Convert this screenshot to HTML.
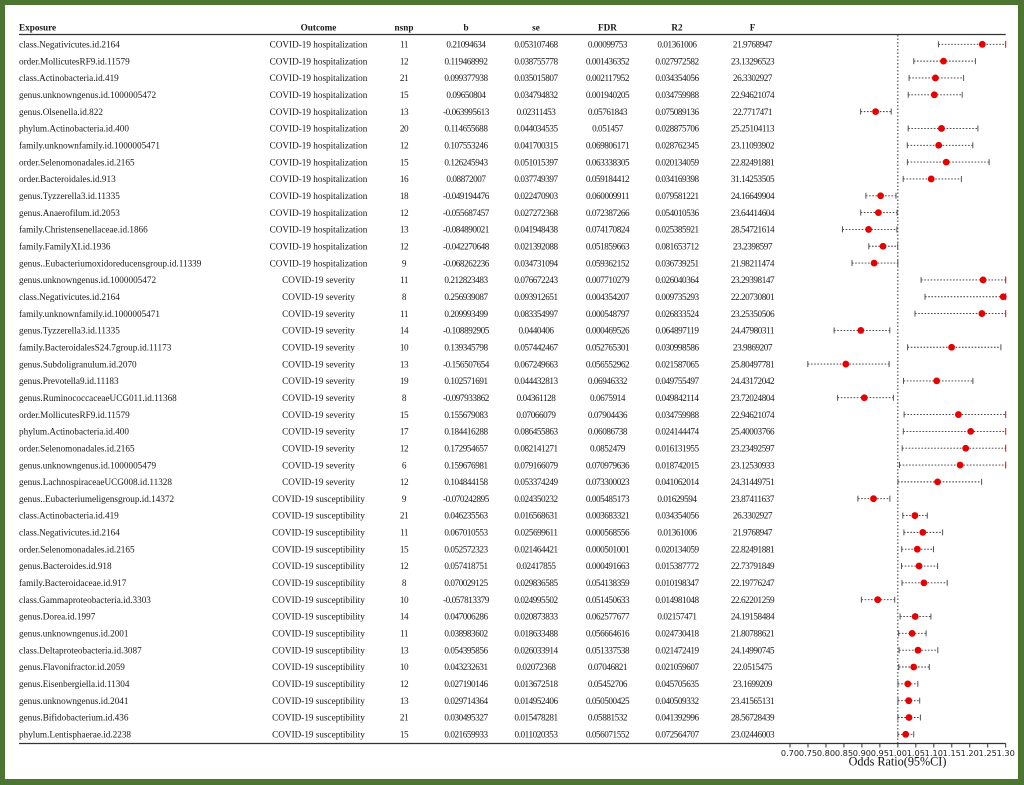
<!DOCTYPE html>
<html><head><meta charset="utf-8"><style>
html,body{margin:0;padding:0;background:#4b7530;}
svg{display:block;}
.t{font-family:"Liberation Serif",serif;font-size:9.2px;fill:#1a1a1a;}
.m{text-anchor:middle;}
.n{letter-spacing:-0.45px;}
.h{font-weight:bold;}
.ax{font-family:"DejaVu Sans","Liberation Sans",sans-serif;font-size:8.2px;fill:#222;text-anchor:middle;}
.ttl{font-family:"Liberation Serif",serif;font-size:12.2px;fill:#111;text-anchor:middle;}
.ci{stroke:#333;stroke-width:0.9;stroke-dasharray:1.6 1.6;}
.cap{stroke:#555;stroke-width:1;}
.capr{stroke:#e00;stroke-width:1;}
.dot{fill:#e60000;}
</style></head><body>
<svg width="1024" height="785" viewBox="0 0 1024 785" xmlns="http://www.w3.org/2000/svg">
<rect x="0" y="0" width="1024" height="785" fill="#4b7530"/>
<rect x="5" y="5" width="1013" height="774" fill="#ffffff"/>

<!-- header -->
<g class="t h">
<text x="19" y="30.6">Exposure</text>
<text class="m" x="318.5" y="30.6">Outcome</text>
<text class="m" x="404" y="30.6">nsnp</text>
<text class="m" x="466" y="30.6">b</text>
<text class="m" x="536" y="30.6">se</text>
<text class="m" x="607.5" y="30.6">FDR</text>
<text class="m" x="677" y="30.6">R2</text>
<text class="m" x="752.5" y="30.6">F</text>
</g>
<line x1="19" y1="34.5" x2="1005.7" y2="34.5" stroke="#333" stroke-width="1.2"/>
<line x1="19" y1="743.5" x2="1005.7" y2="743.5" stroke="#333" stroke-width="1.2"/>
<line x1="897.85" y1="35" x2="897.85" y2="743" stroke="#333" stroke-width="1" stroke-dasharray="1.5 2"/>

<!-- rows -->
<g transform="translate(0,44.30)"><text class="t" x="19" y="3.2">class.Negativicutes.id.2164</text><text class="t m" x="318.5" y="3.2">COVID-19 hospitalization</text><text class="t m n" x="404" y="3.2">11</text><text class="t m n" x="466" y="3.2">0.21094634</text><text class="t m n" x="536" y="3.2">0.053107468</text><text class="t m n" x="607.5" y="3.2">0.00099753</text><text class="t m n" x="677" y="3.2">0.01361006</text><text class="t m n" x="752.5" y="3.2">21.9768947</text>
<line class="ci" x1="938.4" y1="0" x2="1005.7" y2="0"/><line class="cap" x1="938.4" y1="-3" x2="938.4" y2="3"/><line class="capr" x1="1005.7" y1="-3.5" x2="1005.7" y2="3.5"/><circle class="dot" cx="982.3" cy="0" r="3.4"/></g>

<g transform="translate(0,61.13)"><text class="t" x="19" y="3.2">order.MollicutesRF9.id.11579</text><text class="t m" x="318.5" y="3.2">COVID-19 hospitalization</text><text class="t m n" x="404" y="3.2">12</text><text class="t m n" x="466" y="3.2">0.119468992</text><text class="t m n" x="536" y="3.2">0.038755778</text><text class="t m n" x="607.5" y="3.2">0.001436352</text><text class="t m n" x="677" y="3.2">0.027972582</text><text class="t m n" x="752.5" y="3.2">23.13296523</text>
<line class="ci" x1="913.8" y1="0" x2="975.4" y2="0"/><line class="cap" x1="913.8" y1="-3" x2="913.8" y2="3"/><line class="cap" x1="975.4" y1="-3" x2="975.4" y2="3"/><circle class="dot" cx="943.5" cy="0" r="3.4"/></g>

<g transform="translate(0,77.96)"><text class="t" x="19" y="3.2">class.Actinobacteria.id.419</text><text class="t m" x="318.5" y="3.2">COVID-19 hospitalization</text><text class="t m n" x="404" y="3.2">21</text><text class="t m n" x="466" y="3.2">0.099377938</text><text class="t m n" x="536" y="3.2">0.035015807</text><text class="t m n" x="607.5" y="3.2">0.002117952</text><text class="t m n" x="677" y="3.2">0.034354056</text><text class="t m n" x="752.5" y="3.2">26.3302927</text>
<line class="ci" x1="909.1" y1="0" x2="963.6" y2="0"/><line class="cap" x1="909.1" y1="-3" x2="909.1" y2="3"/><line class="cap" x1="963.6" y1="-3" x2="963.6" y2="3"/><circle class="dot" cx="935.4" cy="0" r="3.4"/></g>

<g transform="translate(0,94.79)"><text class="t" x="19" y="3.2">genus.unknowngenus.id.1000005472</text><text class="t m" x="318.5" y="3.2">COVID-19 hospitalization</text><text class="t m n" x="404" y="3.2">15</text><text class="t m n" x="466" y="3.2">0.09650804</text><text class="t m n" x="536" y="3.2">0.034794832</text><text class="t m n" x="607.5" y="3.2">0.001940205</text><text class="t m n" x="677" y="3.2">0.034759988</text><text class="t m n" x="752.5" y="3.2">22.94621074</text>
<line class="ci" x1="908.2" y1="0" x2="962.2" y2="0"/><line class="cap" x1="908.2" y1="-3" x2="908.2" y2="3"/><line class="cap" x1="962.2" y1="-3" x2="962.2" y2="3"/><circle class="dot" cx="934.3" cy="0" r="3.4"/></g>

<g transform="translate(0,111.62)"><text class="t" x="19" y="3.2">genus.Olsenella.id.822</text><text class="t m" x="318.5" y="3.2">COVID-19 hospitalization</text><text class="t m n" x="404" y="3.2">13</text><text class="t m n" x="466" y="3.2">-0.063995613</text><text class="t m n" x="536" y="3.2">0.02311453</text><text class="t m n" x="607.5" y="3.2">0.05761843</text><text class="t m n" x="677" y="3.2">0.075089136</text><text class="t m n" x="752.5" y="3.2">22.7717471</text>
<line class="ci" x1="860.6" y1="0" x2="891.2" y2="0"/><line class="cap" x1="860.6" y1="-3" x2="860.6" y2="3"/><line class="cap" x1="891.2" y1="-3" x2="891.2" y2="3"/><circle class="dot" cx="875.6" cy="0" r="3.4"/></g>

<g transform="translate(0,128.45)"><text class="t" x="19" y="3.2">phylum.Actinobacteria.id.400</text><text class="t m" x="318.5" y="3.2">COVID-19 hospitalization</text><text class="t m n" x="404" y="3.2">20</text><text class="t m n" x="466" y="3.2">0.114655688</text><text class="t m n" x="536" y="3.2">0.044034535</text><text class="t m n" x="607.5" y="3.2">0.051457</text><text class="t m n" x="677" y="3.2">0.028875706</text><text class="t m n" x="752.5" y="3.2">25.25104113</text>
<line class="ci" x1="908.2" y1="0" x2="977.9" y2="0"/><line class="cap" x1="908.2" y1="-3" x2="908.2" y2="3"/><line class="cap" x1="977.9" y1="-3" x2="977.9" y2="3"/><circle class="dot" cx="941.5" cy="0" r="3.4"/></g>

<g transform="translate(0,145.28)"><text class="t" x="19" y="3.2">family.unknownfamily.id.1000005471</text><text class="t m" x="318.5" y="3.2">COVID-19 hospitalization</text><text class="t m n" x="404" y="3.2">12</text><text class="t m n" x="466" y="3.2">0.107553246</text><text class="t m n" x="536" y="3.2">0.041700315</text><text class="t m n" x="607.5" y="3.2">0.069806171</text><text class="t m n" x="677" y="3.2">0.028762345</text><text class="t m n" x="752.5" y="3.2">23.11093902</text>
<line class="ci" x1="907.3" y1="0" x2="972.8" y2="0"/><line class="cap" x1="907.3" y1="-3" x2="907.3" y2="3"/><line class="cap" x1="972.8" y1="-3" x2="972.8" y2="3"/><circle class="dot" cx="938.7" cy="0" r="3.4"/></g>

<g transform="translate(0,162.11)"><text class="t" x="19" y="3.2">order.Selenomonadales.id.2165</text><text class="t m" x="318.5" y="3.2">COVID-19 hospitalization</text><text class="t m n" x="404" y="3.2">15</text><text class="t m n" x="466" y="3.2">0.126245943</text><text class="t m n" x="536" y="3.2">0.051015397</text><text class="t m n" x="607.5" y="3.2">0.063338305</text><text class="t m n" x="677" y="3.2">0.020134059</text><text class="t m n" x="752.5" y="3.2">22.82491881</text>
<line class="ci" x1="907.4" y1="0" x2="989.1" y2="0"/><line class="cap" x1="907.4" y1="-3" x2="907.4" y2="3"/><line class="cap" x1="989.1" y1="-3" x2="989.1" y2="3"/><circle class="dot" cx="946.2" cy="0" r="3.4"/></g>

<g transform="translate(0,178.94)"><text class="t" x="19" y="3.2">order.Bacteroidales.id.913</text><text class="t m" x="318.5" y="3.2">COVID-19 hospitalization</text><text class="t m n" x="404" y="3.2">16</text><text class="t m n" x="466" y="3.2">0.08872007</text><text class="t m n" x="536" y="3.2">0.037749397</text><text class="t m n" x="607.5" y="3.2">0.059184412</text><text class="t m n" x="677" y="3.2">0.034169398</text><text class="t m n" x="752.5" y="3.2">31.14253505</text>
<line class="ci" x1="903.2" y1="0" x2="961.4" y2="0"/><line class="cap" x1="903.2" y1="-3" x2="903.2" y2="3"/><line class="cap" x1="961.4" y1="-3" x2="961.4" y2="3"/><circle class="dot" cx="931.2" cy="0" r="3.4"/></g>

<g transform="translate(0,195.77)"><text class="t" x="19" y="3.2">genus.Tyzzerella3.id.11335</text><text class="t m" x="318.5" y="3.2">COVID-19 hospitalization</text><text class="t m n" x="404" y="3.2">18</text><text class="t m n" x="466" y="3.2">-0.049194476</text><text class="t m n" x="536" y="3.2">0.022470903</text><text class="t m n" x="607.5" y="3.2">0.060009911</text><text class="t m n" x="677" y="3.2">0.079581221</text><text class="t m n" x="752.5" y="3.2">24.16649904</text>
<line class="ci" x1="865.9" y1="0" x2="896.0" y2="0"/><line class="cap" x1="865.9" y1="-3" x2="865.9" y2="3"/><line class="cap" x1="896.0" y1="-3" x2="896.0" y2="3"/><circle class="dot" cx="880.6" cy="0" r="3.4"/></g>

<g transform="translate(0,212.60)"><text class="t" x="19" y="3.2">genus.Anaerofilum.id.2053</text><text class="t m" x="318.5" y="3.2">COVID-19 hospitalization</text><text class="t m n" x="404" y="3.2">12</text><text class="t m n" x="466" y="3.2">-0.055687457</text><text class="t m n" x="536" y="3.2">0.027272368</text><text class="t m n" x="607.5" y="3.2">0.072387266</text><text class="t m n" x="677" y="3.2">0.054010536</text><text class="t m n" x="752.5" y="3.2">23.64414604</text>
<line class="ci" x1="860.7" y1="0" x2="897.1" y2="0"/><line class="cap" x1="860.7" y1="-3" x2="860.7" y2="3"/><line class="cap" x1="897.1" y1="-3" x2="897.1" y2="3"/><circle class="dot" cx="878.4" cy="0" r="3.4"/></g>

<g transform="translate(0,229.43)"><text class="t" x="19" y="3.2">family.Christensenellaceae.id.1866</text><text class="t m" x="318.5" y="3.2">COVID-19 hospitalization</text><text class="t m n" x="404" y="3.2">13</text><text class="t m n" x="466" y="3.2">-0.084890021</text><text class="t m n" x="536" y="3.2">0.041948438</text><text class="t m n" x="607.5" y="3.2">0.074170824</text><text class="t m n" x="677" y="3.2">0.025385921</text><text class="t m n" x="752.5" y="3.2">28.54721614</text>
<line class="ci" x1="842.5" y1="0" x2="896.9" y2="0"/><line class="cap" x1="842.5" y1="-3" x2="842.5" y2="3"/><line class="cap" x1="896.9" y1="-3" x2="896.9" y2="3"/><circle class="dot" cx="868.6" cy="0" r="3.4"/></g>

<g transform="translate(0,246.26)"><text class="t" x="19" y="3.2">family.FamilyXI.id.1936</text><text class="t m" x="318.5" y="3.2">COVID-19 hospitalization</text><text class="t m n" x="404" y="3.2">12</text><text class="t m n" x="466" y="3.2">-0.042270648</text><text class="t m n" x="536" y="3.2">0.021392088</text><text class="t m n" x="607.5" y="3.2">0.051859663</text><text class="t m n" x="677" y="3.2">0.081653712</text><text class="t m n" x="752.5" y="3.2">23.2398597</text>
<line class="ci" x1="868.8" y1="0" x2="897.7" y2="0"/><line class="cap" x1="868.8" y1="-3" x2="868.8" y2="3"/><line class="cap" x1="897.7" y1="-3" x2="897.7" y2="3"/><circle class="dot" cx="883.0" cy="0" r="3.4"/></g>

<g transform="translate(0,263.09)"><text class="t" x="19" y="3.2">genus..Eubacteriumoxidoreducensgroup.id.11339</text><text class="t m" x="318.5" y="3.2">COVID-19 hospitalization</text><text class="t m n" x="404" y="3.2">9</text><text class="t m n" x="466" y="3.2">-0.068262236</text><text class="t m n" x="536" y="3.2">0.034731094</text><text class="t m n" x="607.5" y="3.2">0.059362152</text><text class="t m n" x="677" y="3.2">0.036739251</text><text class="t m n" x="752.5" y="3.2">21.98211474</text>
<line class="ci" x1="852.0" y1="0" x2="897.8" y2="0"/><line class="cap" x1="852.0" y1="-3" x2="852.0" y2="3"/><line class="cap" x1="897.8" y1="-3" x2="897.8" y2="3"/><circle class="dot" cx="874.1" cy="0" r="3.4"/></g>

<g transform="translate(0,279.92)"><text class="t" x="19" y="3.2">genus.unknowngenus.id.1000005472</text><text class="t m" x="318.5" y="3.2">COVID-19 severity</text><text class="t m n" x="404" y="3.2">11</text><text class="t m n" x="466" y="3.2">0.212823483</text><text class="t m n" x="536" y="3.2">0.076672243</text><text class="t m n" x="607.5" y="3.2">0.007710279</text><text class="t m n" x="677" y="3.2">0.026040364</text><text class="t m n" x="752.5" y="3.2">23.29398147</text>
<line class="ci" x1="921.1" y1="0" x2="1005.7" y2="0"/><line class="cap" x1="921.1" y1="-3" x2="921.1" y2="3"/><line class="capr" x1="1005.7" y1="-3.5" x2="1005.7" y2="3.5"/><circle class="dot" cx="983.1" cy="0" r="3.4"/></g>

<g transform="translate(0,296.75)"><text class="t" x="19" y="3.2">class.Negativicutes.id.2164</text><text class="t m" x="318.5" y="3.2">COVID-19 severity</text><text class="t m n" x="404" y="3.2">8</text><text class="t m n" x="466" y="3.2">0.256939087</text><text class="t m n" x="536" y="3.2">0.093912651</text><text class="t m n" x="607.5" y="3.2">0.004354207</text><text class="t m n" x="677" y="3.2">0.009735293</text><text class="t m n" x="752.5" y="3.2">22.20730801</text>
<line class="ci" x1="925.0" y1="0" x2="1005.7" y2="0"/><line class="cap" x1="925.0" y1="-3" x2="925.0" y2="3"/><line class="capr" x1="1005.7" y1="-3.5" x2="1005.7" y2="3.5"/><circle class="dot" cx="1003.2" cy="0" r="3.4"/></g>

<g transform="translate(0,313.58)"><text class="t" x="19" y="3.2">family.unknownfamily.id.1000005471</text><text class="t m" x="318.5" y="3.2">COVID-19 severity</text><text class="t m n" x="404" y="3.2">11</text><text class="t m n" x="466" y="3.2">0.209993499</text><text class="t m n" x="536" y="3.2">0.083354997</text><text class="t m n" x="607.5" y="3.2">0.000548797</text><text class="t m n" x="677" y="3.2">0.026833524</text><text class="t m n" x="752.5" y="3.2">23.25350506</text>
<line class="ci" x1="915.0" y1="0" x2="1005.7" y2="0"/><line class="cap" x1="915.0" y1="-3" x2="915.0" y2="3"/><line class="capr" x1="1005.7" y1="-3.5" x2="1005.7" y2="3.5"/><circle class="dot" cx="981.9" cy="0" r="3.4"/></g>

<g transform="translate(0,330.41)"><text class="t" x="19" y="3.2">genus.Tyzzerella3.id.11335</text><text class="t m" x="318.5" y="3.2">COVID-19 severity</text><text class="t m n" x="404" y="3.2">14</text><text class="t m n" x="466" y="3.2">-0.108892905</text><text class="t m n" x="536" y="3.2">0.0440406</text><text class="t m n" x="607.5" y="3.2">0.000469526</text><text class="t m n" x="677" y="3.2">0.064897119</text><text class="t m n" x="752.5" y="3.2">24.47980311</text>
<line class="ci" x1="834.1" y1="0" x2="889.8" y2="0"/><line class="cap" x1="834.1" y1="-3" x2="834.1" y2="3"/><line class="cap" x1="889.8" y1="-3" x2="889.8" y2="3"/><circle class="dot" cx="860.8" cy="0" r="3.4"/></g>

<g transform="translate(0,347.24)"><text class="t" x="19" y="3.2">family.BacteroidalesS24.7group.id.11173</text><text class="t m" x="318.5" y="3.2">COVID-19 severity</text><text class="t m n" x="404" y="3.2">10</text><text class="t m n" x="466" y="3.2">0.139345798</text><text class="t m n" x="536" y="3.2">0.057442467</text><text class="t m n" x="607.5" y="3.2">0.052765301</text><text class="t m n" x="677" y="3.2">0.030998586</text><text class="t m n" x="752.5" y="3.2">23.9869207</text>
<line class="ci" x1="907.6" y1="0" x2="1000.9" y2="0"/><line class="cap" x1="907.6" y1="-3" x2="907.6" y2="3"/><line class="cap" x1="1000.9" y1="-3" x2="1000.9" y2="3"/><circle class="dot" cx="951.6" cy="0" r="3.4"/></g>

<g transform="translate(0,364.07)"><text class="t" x="19" y="3.2">genus.Subdoligranulum.id.2070</text><text class="t m" x="318.5" y="3.2">COVID-19 severity</text><text class="t m n" x="404" y="3.2">13</text><text class="t m n" x="466" y="3.2">-0.156507654</text><text class="t m n" x="536" y="3.2">0.067249663</text><text class="t m n" x="607.5" y="3.2">0.056552962</text><text class="t m n" x="677" y="3.2">0.021587065</text><text class="t m n" x="752.5" y="3.2">25.80497781</text>
<line class="ci" x1="807.8" y1="0" x2="889.1" y2="0"/><line class="cap" x1="807.8" y1="-3" x2="807.8" y2="3"/><line class="cap" x1="889.1" y1="-3" x2="889.1" y2="3"/><circle class="dot" cx="845.8" cy="0" r="3.4"/></g>

<g transform="translate(0,380.90)"><text class="t" x="19" y="3.2">genus.Prevotella9.id.11183</text><text class="t m" x="318.5" y="3.2">COVID-19 severity</text><text class="t m n" x="404" y="3.2">19</text><text class="t m n" x="466" y="3.2">0.102571691</text><text class="t m n" x="536" y="3.2">0.044432813</text><text class="t m n" x="607.5" y="3.2">0.06946332</text><text class="t m n" x="677" y="3.2">0.049755497</text><text class="t m n" x="752.5" y="3.2">24.43172042</text>
<line class="ci" x1="903.5" y1="0" x2="972.9" y2="0"/><line class="cap" x1="903.5" y1="-3" x2="903.5" y2="3"/><line class="cap" x1="972.9" y1="-3" x2="972.9" y2="3"/><circle class="dot" cx="936.7" cy="0" r="3.4"/></g>

<g transform="translate(0,397.73)"><text class="t" x="19" y="3.2">genus.RuminococcaceaeUCG011.id.11368</text><text class="t m" x="318.5" y="3.2">COVID-19 severity</text><text class="t m n" x="404" y="3.2">8</text><text class="t m n" x="466" y="3.2">-0.097933862</text><text class="t m n" x="536" y="3.2">0.04361128</text><text class="t m n" x="607.5" y="3.2">0.0675914</text><text class="t m n" x="677" y="3.2">0.049842114</text><text class="t m n" x="752.5" y="3.2">23.72024804</text>
<line class="ci" x1="837.6" y1="0" x2="893.4" y2="0"/><line class="cap" x1="837.6" y1="-3" x2="837.6" y2="3"/><line class="cap" x1="893.4" y1="-3" x2="893.4" y2="3"/><circle class="dot" cx="864.3" cy="0" r="3.4"/></g>

<g transform="translate(0,414.56)"><text class="t" x="19" y="3.2">order.MollicutesRF9.id.11579</text><text class="t m" x="318.5" y="3.2">COVID-19 severity</text><text class="t m n" x="404" y="3.2">15</text><text class="t m n" x="466" y="3.2">0.155679083</text><text class="t m n" x="536" y="3.2">0.07066079</text><text class="t m n" x="607.5" y="3.2">0.07904436</text><text class="t m n" x="677" y="3.2">0.034759988</text><text class="t m n" x="752.5" y="3.2">22.94621074</text>
<line class="ci" x1="904.1" y1="0" x2="1005.7" y2="0"/><line class="cap" x1="904.1" y1="-3" x2="904.1" y2="3"/><line class="capr" x1="1005.7" y1="-3.5" x2="1005.7" y2="3.5"/><circle class="dot" cx="958.4" cy="0" r="3.4"/></g>

<g transform="translate(0,431.39)"><text class="t" x="19" y="3.2">phylum.Actinobacteria.id.400</text><text class="t m" x="318.5" y="3.2">COVID-19 severity</text><text class="t m n" x="404" y="3.2">17</text><text class="t m n" x="466" y="3.2">0.184416288</text><text class="t m n" x="536" y="3.2">0.086455863</text><text class="t m n" x="607.5" y="3.2">0.06086738</text><text class="t m n" x="677" y="3.2">0.024144474</text><text class="t m n" x="752.5" y="3.2">25.40003766</text>
<line class="ci" x1="903.3" y1="0" x2="1005.7" y2="0"/><line class="cap" x1="903.3" y1="-3" x2="903.3" y2="3"/><line class="capr" x1="1005.7" y1="-3.5" x2="1005.7" y2="3.5"/><circle class="dot" cx="970.7" cy="0" r="3.4"/></g>

<g transform="translate(0,448.22)"><text class="t" x="19" y="3.2">order.Selenomonadales.id.2165</text><text class="t m" x="318.5" y="3.2">COVID-19 severity</text><text class="t m n" x="404" y="3.2">12</text><text class="t m n" x="466" y="3.2">0.172954657</text><text class="t m n" x="536" y="3.2">0.082141271</text><text class="t m n" x="607.5" y="3.2">0.0852479</text><text class="t m n" x="677" y="3.2">0.016131955</text><text class="t m n" x="752.5" y="3.2">23.23492597</text>
<line class="ci" x1="902.2" y1="0" x2="1005.7" y2="0"/><line class="cap" x1="902.2" y1="-3" x2="902.2" y2="3"/><line class="capr" x1="1005.7" y1="-3.5" x2="1005.7" y2="3.5"/><circle class="dot" cx="965.7" cy="0" r="3.4"/></g>

<g transform="translate(0,465.05)"><text class="t" x="19" y="3.2">genus.unknowngenus.id.1000005479</text><text class="t m" x="318.5" y="3.2">COVID-19 severity</text><text class="t m n" x="404" y="3.2">6</text><text class="t m n" x="466" y="3.2">0.159676981</text><text class="t m n" x="536" y="3.2">0.079166079</text><text class="t m n" x="607.5" y="3.2">0.070979636</text><text class="t m n" x="677" y="3.2">0.018742015</text><text class="t m n" x="752.5" y="3.2">23.12530933</text>
<line class="ci" x1="899.5" y1="0" x2="1005.7" y2="0"/><line class="cap" x1="899.5" y1="-3" x2="899.5" y2="3"/><line class="capr" x1="1005.7" y1="-3.5" x2="1005.7" y2="3.5"/><circle class="dot" cx="960.1" cy="0" r="3.4"/></g>

<g transform="translate(0,481.88)"><text class="t" x="19" y="3.2">genus.LachnospiraceaeUCG008.id.11328</text><text class="t m" x="318.5" y="3.2">COVID-19 severity</text><text class="t m n" x="404" y="3.2">12</text><text class="t m n" x="466" y="3.2">0.104844158</text><text class="t m n" x="536" y="3.2">0.053374249</text><text class="t m n" x="607.5" y="3.2">0.073300023</text><text class="t m n" x="677" y="3.2">0.041062014</text><text class="t m n" x="752.5" y="3.2">24.31449751</text>
<line class="ci" x1="897.9" y1="0" x2="981.6" y2="0"/><line class="cap" x1="897.9" y1="-3" x2="897.9" y2="3"/><line class="cap" x1="981.6" y1="-3" x2="981.6" y2="3"/><circle class="dot" cx="937.6" cy="0" r="3.4"/></g>

<g transform="translate(0,498.71)"><text class="t" x="19" y="3.2">genus..Eubacteriumeligensgroup.id.14372</text><text class="t m" x="318.5" y="3.2">COVID-19 susceptibility</text><text class="t m n" x="404" y="3.2">9</text><text class="t m n" x="466" y="3.2">-0.070242895</text><text class="t m n" x="536" y="3.2">0.024350232</text><text class="t m n" x="607.5" y="3.2">0.005485173</text><text class="t m n" x="677" y="3.2">0.01629594</text><text class="t m n" x="752.5" y="3.2">23.87411637</text>
<line class="ci" x1="857.9" y1="0" x2="889.9" y2="0"/><line class="cap" x1="857.9" y1="-3" x2="857.9" y2="3"/><line class="cap" x1="889.9" y1="-3" x2="889.9" y2="3"/><circle class="dot" cx="873.5" cy="0" r="3.4"/></g>

<g transform="translate(0,515.54)"><text class="t" x="19" y="3.2">class.Actinobacteria.id.419</text><text class="t m" x="318.5" y="3.2">COVID-19 susceptibility</text><text class="t m n" x="404" y="3.2">21</text><text class="t m n" x="466" y="3.2">0.046235563</text><text class="t m n" x="536" y="3.2">0.016568631</text><text class="t m n" x="607.5" y="3.2">0.003683321</text><text class="t m n" x="677" y="3.2">0.034354056</text><text class="t m n" x="752.5" y="3.2">26.3302927</text>
<line class="ci" x1="902.8" y1="0" x2="927.3" y2="0"/><line class="cap" x1="902.8" y1="-3" x2="902.8" y2="3"/><line class="cap" x1="927.3" y1="-3" x2="927.3" y2="3"/><circle class="dot" cx="914.9" cy="0" r="3.4"/></g>

<g transform="translate(0,532.37)"><text class="t" x="19" y="3.2">class.Negativicutes.id.2164</text><text class="t m" x="318.5" y="3.2">COVID-19 susceptibility</text><text class="t m n" x="404" y="3.2">11</text><text class="t m n" x="466" y="3.2">0.067010553</text><text class="t m n" x="536" y="3.2">0.025699611</text><text class="t m n" x="607.5" y="3.2">0.000568556</text><text class="t m n" x="677" y="3.2">0.01361006</text><text class="t m n" x="752.5" y="3.2">21.9768947</text>
<line class="ci" x1="903.9" y1="0" x2="942.6" y2="0"/><line class="cap" x1="903.9" y1="-3" x2="903.9" y2="3"/><line class="cap" x1="942.6" y1="-3" x2="942.6" y2="3"/><circle class="dot" cx="922.8" cy="0" r="3.4"/></g>

<g transform="translate(0,549.20)"><text class="t" x="19" y="3.2">order.Selenomonadales.id.2165</text><text class="t m" x="318.5" y="3.2">COVID-19 susceptibility</text><text class="t m n" x="404" y="3.2">15</text><text class="t m n" x="466" y="3.2">0.052572323</text><text class="t m n" x="536" y="3.2">0.021464421</text><text class="t m n" x="607.5" y="3.2">0.000501001</text><text class="t m n" x="677" y="3.2">0.020134059</text><text class="t m n" x="752.5" y="3.2">22.82491881</text>
<line class="ci" x1="901.7" y1="0" x2="933.5" y2="0"/><line class="cap" x1="901.7" y1="-3" x2="901.7" y2="3"/><line class="cap" x1="933.5" y1="-3" x2="933.5" y2="3"/><circle class="dot" cx="917.3" cy="0" r="3.4"/></g>

<g transform="translate(0,566.03)"><text class="t" x="19" y="3.2">genus.Bacteroides.id.918</text><text class="t m" x="318.5" y="3.2">COVID-19 susceptibility</text><text class="t m n" x="404" y="3.2">12</text><text class="t m n" x="466" y="3.2">0.057418751</text><text class="t m n" x="536" y="3.2">0.02417855</text><text class="t m n" x="607.5" y="3.2">0.000491663</text><text class="t m n" x="677" y="3.2">0.015387772</text><text class="t m n" x="752.5" y="3.2">22.73791849</text>
<line class="ci" x1="901.5" y1="0" x2="937.6" y2="0"/><line class="cap" x1="901.5" y1="-3" x2="901.5" y2="3"/><line class="cap" x1="937.6" y1="-3" x2="937.6" y2="3"/><circle class="dot" cx="919.1" cy="0" r="3.4"/></g>

<g transform="translate(0,582.86)"><text class="t" x="19" y="3.2">family.Bacteroidaceae.id.917</text><text class="t m" x="318.5" y="3.2">COVID-19 susceptibility</text><text class="t m n" x="404" y="3.2">8</text><text class="t m n" x="466" y="3.2">0.070029125</text><text class="t m n" x="536" y="3.2">0.029836585</text><text class="t m n" x="607.5" y="3.2">0.054138359</text><text class="t m n" x="677" y="3.2">0.010198347</text><text class="t m n" x="752.5" y="3.2">22.19776247</text>
<line class="ci" x1="902.0" y1="0" x2="947.2" y2="0"/><line class="cap" x1="902.0" y1="-3" x2="902.0" y2="3"/><line class="cap" x1="947.2" y1="-3" x2="947.2" y2="3"/><circle class="dot" cx="923.9" cy="0" r="3.4"/></g>

<g transform="translate(0,599.69)"><text class="t" x="19" y="3.2">class.Gammaproteobacteria.id.3303</text><text class="t m" x="318.5" y="3.2">COVID-19 susceptibility</text><text class="t m n" x="404" y="3.2">10</text><text class="t m n" x="466" y="3.2">-0.057813379</text><text class="t m n" x="536" y="3.2">0.024995502</text><text class="t m n" x="607.5" y="3.2">0.051450633</text><text class="t m n" x="677" y="3.2">0.014981048</text><text class="t m n" x="752.5" y="3.2">22.62201259</text>
<line class="ci" x1="861.4" y1="0" x2="894.7" y2="0"/><line class="cap" x1="861.4" y1="-3" x2="861.4" y2="3"/><line class="cap" x1="894.7" y1="-3" x2="894.7" y2="3"/><circle class="dot" cx="877.7" cy="0" r="3.4"/></g>

<g transform="translate(0,616.52)"><text class="t" x="19" y="3.2">genus.Dorea.id.1997</text><text class="t m" x="318.5" y="3.2">COVID-19 susceptibility</text><text class="t m n" x="404" y="3.2">14</text><text class="t m n" x="466" y="3.2">0.047006286</text><text class="t m n" x="536" y="3.2">0.020873833</text><text class="t m n" x="607.5" y="3.2">0.062577677</text><text class="t m n" x="677" y="3.2">0.02157471</text><text class="t m n" x="752.5" y="3.2">24.19158484</text>
<line class="ci" x1="900.1" y1="0" x2="930.9" y2="0"/><line class="cap" x1="900.1" y1="-3" x2="900.1" y2="3"/><line class="cap" x1="930.9" y1="-3" x2="930.9" y2="3"/><circle class="dot" cx="915.2" cy="0" r="3.4"/></g>

<g transform="translate(0,633.35)"><text class="t" x="19" y="3.2">genus.unknowngenus.id.2001</text><text class="t m" x="318.5" y="3.2">COVID-19 susceptibility</text><text class="t m n" x="404" y="3.2">11</text><text class="t m n" x="466" y="3.2">0.038983602</text><text class="t m n" x="536" y="3.2">0.018633488</text><text class="t m n" x="607.5" y="3.2">0.056664616</text><text class="t m n" x="677" y="3.2">0.024730418</text><text class="t m n" x="752.5" y="3.2">21.80788621</text>
<line class="ci" x1="898.7" y1="0" x2="926.1" y2="0"/><line class="cap" x1="898.7" y1="-3" x2="898.7" y2="3"/><line class="cap" x1="926.1" y1="-3" x2="926.1" y2="3"/><circle class="dot" cx="912.1" cy="0" r="3.4"/></g>

<g transform="translate(0,650.18)"><text class="t" x="19" y="3.2">class.Deltaproteobacteria.id.3087</text><text class="t m" x="318.5" y="3.2">COVID-19 susceptibility</text><text class="t m n" x="404" y="3.2">13</text><text class="t m n" x="466" y="3.2">0.054395856</text><text class="t m n" x="536" y="3.2">0.026033914</text><text class="t m n" x="607.5" y="3.2">0.051337538</text><text class="t m n" x="677" y="3.2">0.021472419</text><text class="t m n" x="752.5" y="3.2">24.14990745</text>
<line class="ci" x1="899.1" y1="0" x2="937.8" y2="0"/><line class="cap" x1="899.1" y1="-3" x2="899.1" y2="3"/><line class="cap" x1="937.8" y1="-3" x2="937.8" y2="3"/><circle class="dot" cx="918.0" cy="0" r="3.4"/></g>

<g transform="translate(0,667.01)"><text class="t" x="19" y="3.2">genus.Flavonifractor.id.2059</text><text class="t m" x="318.5" y="3.2">COVID-19 susceptibility</text><text class="t m n" x="404" y="3.2">10</text><text class="t m n" x="466" y="3.2">0.043232631</text><text class="t m n" x="536" y="3.2">0.02072368</text><text class="t m n" x="607.5" y="3.2">0.07046821</text><text class="t m n" x="677" y="3.2">0.021059607</text><text class="t m n" x="752.5" y="3.2">22.0515475</text>
<line class="ci" x1="898.8" y1="0" x2="929.3" y2="0"/><line class="cap" x1="898.8" y1="-3" x2="898.8" y2="3"/><line class="cap" x1="929.3" y1="-3" x2="929.3" y2="3"/><circle class="dot" cx="913.7" cy="0" r="3.4"/></g>

<g transform="translate(0,683.84)"><text class="t" x="19" y="3.2">genus.Eisenbergiella.id.11304</text><text class="t m" x="318.5" y="3.2">COVID-19 susceptibility</text><text class="t m n" x="404" y="3.2">12</text><text class="t m n" x="466" y="3.2">0.027190146</text><text class="t m n" x="536" y="3.2">0.013672518</text><text class="t m n" x="607.5" y="3.2">0.05452706</text><text class="t m n" x="677" y="3.2">0.045705635</text><text class="t m n" x="752.5" y="3.2">23.1699209</text>
<line class="ci" x1="898.0" y1="0" x2="917.8" y2="0"/><line class="cap" x1="898.0" y1="-3" x2="898.0" y2="3"/><line class="cap" x1="917.8" y1="-3" x2="917.8" y2="3"/><circle class="dot" cx="907.8" cy="0" r="3.4"/></g>

<g transform="translate(0,700.67)"><text class="t" x="19" y="3.2">genus.unknowngenus.id.2041</text><text class="t m" x="318.5" y="3.2">COVID-19 susceptibility</text><text class="t m n" x="404" y="3.2">13</text><text class="t m n" x="466" y="3.2">0.029714364</text><text class="t m n" x="536" y="3.2">0.014952406</text><text class="t m n" x="607.5" y="3.2">0.050500425</text><text class="t m n" x="677" y="3.2">0.040509332</text><text class="t m n" x="752.5" y="3.2">23.41565131</text>
<line class="ci" x1="898.0" y1="0" x2="919.7" y2="0"/><line class="cap" x1="898.0" y1="-3" x2="898.0" y2="3"/><line class="cap" x1="919.7" y1="-3" x2="919.7" y2="3"/><circle class="dot" cx="908.7" cy="0" r="3.4"/></g>

<g transform="translate(0,717.50)"><text class="t" x="19" y="3.2">genus.Bifidobacterium.id.436</text><text class="t m" x="318.5" y="3.2">COVID-19 susceptibility</text><text class="t m n" x="404" y="3.2">21</text><text class="t m n" x="466" y="3.2">0.030495327</text><text class="t m n" x="536" y="3.2">0.015478281</text><text class="t m n" x="607.5" y="3.2">0.05881532</text><text class="t m n" x="677" y="3.2">0.041392996</text><text class="t m n" x="752.5" y="3.2">28.56728439</text>
<line class="ci" x1="897.9" y1="0" x2="920.4" y2="0"/><line class="cap" x1="897.9" y1="-3" x2="897.9" y2="3"/><line class="cap" x1="920.4" y1="-3" x2="920.4" y2="3"/><circle class="dot" cx="909.0" cy="0" r="3.4"/></g>

<g transform="translate(0,734.33)"><text class="t" x="19" y="3.2">phylum.Lentisphaerae.id.2238</text><text class="t m" x="318.5" y="3.2">COVID-19 susceptibility</text><text class="t m n" x="404" y="3.2">15</text><text class="t m n" x="466" y="3.2">0.021659933</text><text class="t m n" x="536" y="3.2">0.011020353</text><text class="t m n" x="607.5" y="3.2">0.056071552</text><text class="t m n" x="677" y="3.2">0.072564707</text><text class="t m n" x="752.5" y="3.2">23.02446003</text>
<line class="ci" x1="897.9" y1="0" x2="913.7" y2="0"/><line class="cap" x1="897.9" y1="-3" x2="897.9" y2="3"/><line class="cap" x1="913.7" y1="-3" x2="913.7" y2="3"/><circle class="dot" cx="905.7" cy="0" r="3.4"/></g>

<!-- x axis -->
<g stroke="#333" stroke-width="1">
<line x1="790" y1="743.5" x2="790" y2="747.5"/>
<line x1="807.98" y1="743.5" x2="807.98" y2="747.5"/>
<line x1="825.95" y1="743.5" x2="825.95" y2="747.5"/>
<line x1="843.93" y1="743.5" x2="843.93" y2="747.5"/>
<line x1="861.9" y1="743.5" x2="861.9" y2="747.5"/>
<line x1="879.88" y1="743.5" x2="879.88" y2="747.5"/>
<line x1="897.85" y1="743.5" x2="897.85" y2="747.5"/>
<line x1="915.83" y1="743.5" x2="915.83" y2="747.5"/>
<line x1="933.8" y1="743.5" x2="933.8" y2="747.5"/>
<line x1="951.78" y1="743.5" x2="951.78" y2="747.5"/>
<line x1="969.75" y1="743.5" x2="969.75" y2="747.5"/>
<line x1="987.73" y1="743.5" x2="987.73" y2="747.5"/>
<line x1="1005.7" y1="743.5" x2="1005.7" y2="747.5"/>
</g>
<g class="ax">
<text x="790" y="756">0.70</text>
<text x="807.98" y="756">0.75</text>
<text x="825.95" y="756">0.80</text>
<text x="843.93" y="756">0.85</text>
<text x="861.9" y="756">0.90</text>
<text x="879.88" y="756">0.95</text>
<text x="897.85" y="756">1.00</text>
<text x="915.83" y="756">1.05</text>
<text x="933.8" y="756">1.10</text>
<text x="951.78" y="756">1.15</text>
<text x="969.75" y="756">1.20</text>
<text x="987.73" y="756">1.25</text>
<text x="1005.7" y="756">1.30</text>
</g>
<text class="ttl" x="897.5" y="765.5">Odds Ratio(95%CI)</text>
</svg>
</body></html>
